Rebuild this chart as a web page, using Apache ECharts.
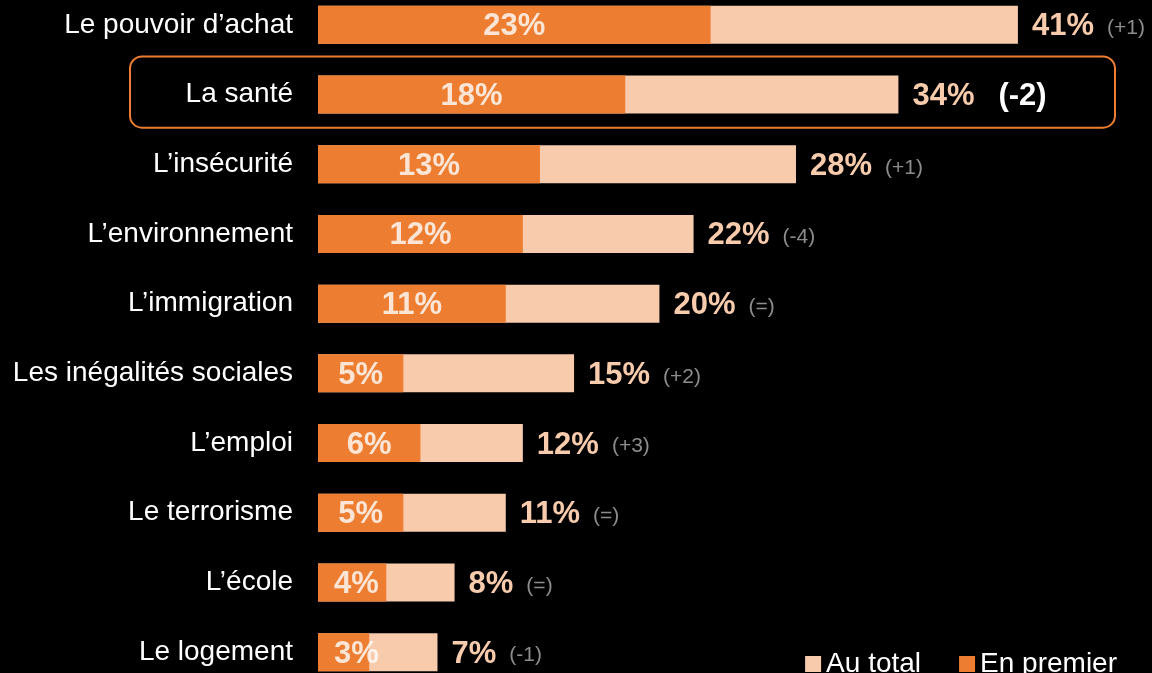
<!DOCTYPE html>
<html><head><meta charset="utf-8">
<script src="https://cdn.jsdelivr.net/npm/echarts@6/dist/echarts.min.js"></script>
<style>html,body{margin:0;padding:0;background:#000}#c{width:1152px;height:673px}</style>
</head><body><div id="c"></div>
<script>
const categories = ["Le pouvoir d’achat","La santé","L’insécurité","L’environnement","L’immigration","Les inégalités sociales","L’emploi","Le terrorisme","L’école","Le logement"];
const enPremier = [23,18,13,12,11,5,6,5,4,3];
const auTotal = [41,34,28,22,20,15,12,11,8,7];
const changes = ["(+1)","(-2)","(+1)","(-4)","(=)","(+2)","(+3)","(=)","(=)","(-1)"];
const highlightIndex = 1;

const ORANGE = '#ED7D31', PEACH = '#F8CBAD';
const FONT = '"Liberation Sans", Arial, sans-serif';
const chart = echarts.init(document.getElementById('c'));

const minLabelCenter = 2.25;
chart.setOption({
  backgroundColor: '#000',
  animation: false,
  textStyle: { fontFamily: FONT },
  grid: { left: 318, width: 819.4, top: -10, height: 697, outerBoundsMode: 'none', containLabel: false },
  xAxis: { type: 'value', min: 0, max: 48, show: false },
  yAxis: {
    type: 'category', data: categories, inverse: true,
    axisLine: { show: false }, axisTick: { show: false }, splitLine: { show: false },
    axisLabel: { color: '#fff', fontSize: 28, margin: 25, fontFamily: FONT, lineHeight: 32, padding: [4,0,0,0] }
  },
  legend: {
    data: ['Au total', 'En premier'], right: 30, top: 645,
    icon: 'rect', itemWidth: 16, itemHeight: 16, itemGap: 38,
    textStyle: { color: '#fff', fontSize: 28, fontFamily: FONT }
  },
  series: [
    {
      name: 'Au total', type: 'bar', data: auTotal, barWidth: 38, barGap: '-100%',
      itemStyle: { color: PEACH },
      label: {
        show: true, position: 'right', distance: 14, offset: [0, 2],
        formatter: p => p.dataIndex === highlightIndex
          ? '{t|' + p.value + '%}{h|' + changes[p.dataIndex] + '}'
          : '{t|' + p.value + '%}{c|' + changes[p.dataIndex] + '}',
        rich: {
          t: { color: PEACH, fontSize: 31, fontWeight: 'bold', fontFamily: FONT },
          c: { color: '#8c8c8c', fontSize: 21, fontFamily: FONT, padding: [3,0,0,13] },
          h: { color: '#fff', fontSize: 31, fontWeight: 'bold', fontFamily: FONT, padding: [0,0,0,24] }
        }
      }
    },
    {
      name: 'En premier', type: 'bar', data: enPremier, barWidth: 38,
      itemStyle: { color: ORANGE }
    },
    {
      name: 'labels', type: 'scatter', symbolSize: 0, silent: true, z: 10,
      data: enPremier.map((v, i) => ({ value: [Math.max(v / 2, minLabelCenter), i], raw: v })),
      label: {
        show: true, position: 'inside', offset: [0, 2],
        formatter: p => p.data.raw + '%',
        color: '#fff', fontSize: 31, fontWeight: 'bold', fontFamily: FONT
      }
    }
  ]
});

const cy = chart.convertToPixel({ yAxisIndex: 0 }, categories[highlightIndex]);
const band = chart.convertToPixel({ yAxisIndex: 0 }, categories[highlightIndex + 1]) - cy;
chart.setOption({
  graphic: [{
    type: 'rect', silent: true,
    shape: { x: 130, y: cy - band * 0.545, width: 985, height: band * 1.02, r: 12 },
    style: { fill: 'none', stroke: ORANGE, lineWidth: 2 }
  }]
});
</script></body></html>
